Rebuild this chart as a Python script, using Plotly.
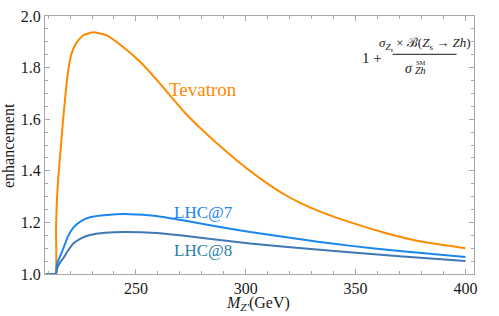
import plotly.graph_objects as go

# ---- data ----
tev_x = [209, 213.3, 213.6, 214, 214.6, 215.8, 216.7, 217.7, 218.5, 220, 221, 223, 226, 230.6, 236.7, 244, 252, 259, 265, 272, 280, 288, 295, 302, 309.4, 317, 325, 333.6, 348.8, 364, 379, 400]
tev_y = [1.0, 1.0, 1.17, 1.28, 1.37, 1.49, 1.585, 1.675, 1.745, 1.83, 1.862, 1.898, 1.925, 1.937, 1.925, 1.881, 1.822, 1.757, 1.697, 1.628, 1.560, 1.498, 1.447, 1.399, 1.353, 1.311, 1.275, 1.243, 1.197, 1.158, 1.127, 1.10]

lhc7_x = [209, 213.6, 214, 214.5, 215.5, 217, 219, 221.5, 225, 229, 236.7, 247, 259.4, 270, 285, 302, 333.6, 347, 370, 400]
lhc7_y = [1.0, 1.0, 1.035, 1.05, 1.07, 1.10, 1.145, 1.18, 1.205, 1.22, 1.229, 1.232, 1.225, 1.210, 1.187, 1.163, 1.124, 1.110, 1.089, 1.066]

lhc8_x = [209, 213.6, 214, 214.5, 215.5, 217, 219, 221.5, 225, 229, 236, 245, 259.4, 270, 302, 333.6, 350, 370, 400]
lhc8_y = [1.0, 1.0, 1.02, 1.03, 1.045, 1.062, 1.09, 1.118, 1.138, 1.151, 1.160, 1.163, 1.159, 1.150, 1.118, 1.094, 1.082, 1.069, 1.05]

x_ticks = [250, 300, 350, 400]
y_ticks = [1.0, 1.2, 1.4, 1.6, 1.8, 2.0]
y_ticklabels = ["1.0", "1.2", "1.4", "1.6", "1.8", "2.0"]

C_TEV = "#ff8a00"
C_L7 = "#1a86f0"
C_L8 = "#3f78b4"
C_L8T = "#2b7fa3"
FONT = "Liberation Serif, Times New Roman, DejaVu Serif, serif"
TXT = "#1a1a1a"

W, H = 499, 316
L, R, T, B = 45, 24.5, 8, 42


def px(xp):
    return (xp - L) / (W - L - R)


def py(yp):
    return (H - B - yp) / (H - B - T)


fig = go.Figure()
for xs, ys, c in [(tev_x, tev_y, C_TEV), (lhc7_x, lhc7_y, C_L7), (lhc8_x, lhc8_y, C_L8)]:
    fig.add_trace(go.Scatter(x=xs, y=ys, mode="lines",
                             line=dict(color=c, width=2, shape="spline", smoothing=0.4),
                             hoverinfo="skip", showlegend=False))

axis_common = dict(showgrid=False, zeroline=False, showline=True, linecolor="#a6a6a6",
                   linewidth=1, mirror="allticks", ticks="inside", ticklen=5,
                   tickcolor="#a6a6a6", tickwidth=1, ticklabeloverflow="allow",
                   tickfont=dict(family=FONT, size=16, color=TXT))

fig.update_xaxes(range=[208.6, 403.9], tickvals=x_ticks, **axis_common,
                 minor=dict(ticks="inside", ticklen=3, dtick=10, tick0=200, tickcolor="#a6a6a6"))
fig.update_yaxes(range=[1.0, 2.0], tickvals=y_ticks, ticktext=y_ticklabels, **axis_common,
                 minor=dict(ticks="inside", ticklen=3, dtick=0.05, tick0=1.0, tickcolor="#a6a6a6"))

ann = []
ann.append(dict(text="Tevatron", x=px(203), y=py(84), font=dict(family=FONT, size=19, color=C_TEV)))
ann.append(dict(text="LHC@7", x=px(203.5), y=py(211), font=dict(family=FONT, size=17, color=C_L7)))
ann.append(dict(text="LHC@8", x=px(203.5), y=py(250), font=dict(family=FONT, size=17, color=C_L8T)))
# axis titles
ann.append(dict(text="<i>M</i><sub><i>Z'</i></sub>(GeV)", x=px(258), y=py(304),
                font=dict(family=FONT, size=16, color=TXT)))
ann.append(dict(text="enhancement", x=px(9), y=py(142), textangle=-90,
                font=dict(family=FONT, size=16, color=TXT)))
# formula
ann.append(dict(text="1 +", x=px(372), y=py(51), font=dict(family=FONT, size=15, color=TXT)))
ann.append(dict(text="<i>σ</i><sub><i>Z</i><sub>s</sub></sub> × ℬ(<i>Z</i><sub>s</sub> → <i>Zh</i>)",
                x=px(425), y=py(37), font=dict(family=FONT, size=13, color=TXT)))
ann.append(dict(text="<i>σ</i>", x=px(409), y=py(62), font=dict(family=FONT, size=14, color=TXT)))
ann.append(dict(text="SM", x=px(421), y=py(55.5), font=dict(family=FONT, size=6.5, color=TXT)))
ann.append(dict(text="<i>Zh</i>", x=px(421), y=py(64), font=dict(family=FONT, size=10, color=TXT)))

for a in ann:
    a.update(xref="paper", yref="paper", showarrow=False, xanchor="center", yanchor="middle")
fig.update_layout(annotations=ann)

fig.add_shape(type="line", xref="paper", yref="paper", x0=px(393), x1=px(457), y0=py(47.5), y1=py(47.5),
              line=dict(color=TXT, width=1))

fig.update_layout(width=W, height=H, margin=dict(l=L, r=R, t=T, b=B),
                  plot_bgcolor="white", paper_bgcolor="white")

fig.write_html("out.html", config={"displayModeBar": False},
               post_script="document.body.style.margin='0';document.body.style.overflow='hidden';")
